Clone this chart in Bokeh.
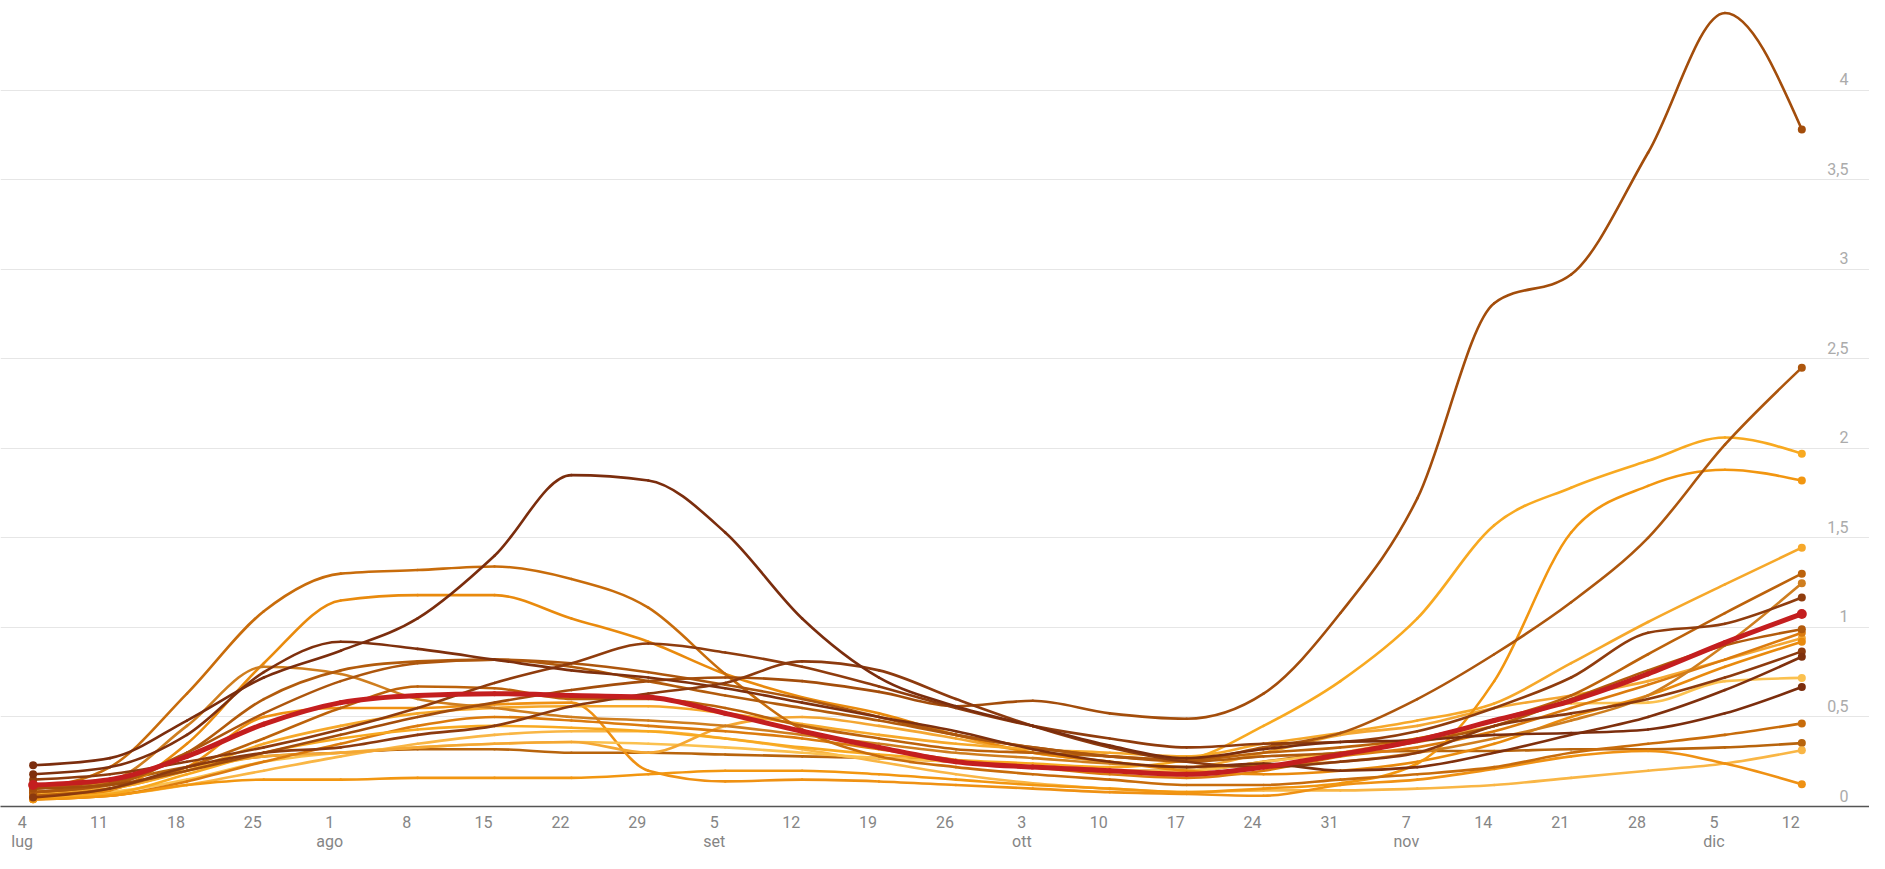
import numpy as np
import pandas as pd
from bokeh.plotting import figure
from bokeh.models import Range1d, FixedTicker, LinearAxis, Grid
from bokeh.core.properties import value
from bokeh.embed import file_html
from bokeh.resources import INLINE

# ---------------- data ----------------
origin = "2020-07-04"
dates = ["2020-07-05", "2020-07-12", "2020-07-19", "2020-07-26", "2020-08-02", "2020-08-09",
         "2020-08-16", "2020-08-23", "2020-08-30", "2020-09-06", "2020-09-13", "2020-09-20",
         "2020-09-27", "2020-10-04", "2020-10-11", "2020-10-18", "2020-10-25", "2020-11-01",
         "2020-11-08", "2020-11-15", "2020-11-22", "2020-11-29", "2020-12-06", "2020-12-13"]

tick_dates = ["2020-07-04", "2020-07-11", "2020-07-18", "2020-07-25", "2020-08-01", "2020-08-08",
              "2020-08-15", "2020-08-22", "2020-08-29", "2020-09-05", "2020-09-12", "2020-09-19",
              "2020-09-26", "2020-10-03", "2020-10-10", "2020-10-17", "2020-10-24", "2020-10-31",
              "2020-11-07", "2020-11-14", "2020-11-21", "2020-11-28", "2020-12-05", "2020-12-12"]
tick_labels = ["4", "11", "18", "25", "1", "8", "15", "22", "29", "5", "12", "19", "26",
               "3", "10", "17", "24", "31", "7", "14", "21", "28", "5", "12"]
month_dates = ["2020-07-04", "2020-08-01", "2020-09-05", "2020-10-03", "2020-11-07", "2020-12-05"]
month_labels = ["lug", "ago", "set", "ott", "nov", "dic"]

y_ticks = [0, 0.5, 1, 1.5, 2, 2.5, 3, 3.5, 4]
y_labels = ["0", "0,5", "1", "1,5", "2", "2,5", "3", "3,5", "4"]

reg_p = [0.23, 0.27, 0.48, 0.72, 0.87, 1.05, 1.40, 1.85, 1.82, 1.53, 1.05, 0.72, 0.56, 0.45, 0.34, 0.27, 0.32, 0.36, 0.37, 0.40, 0.41, 0.43, 0.52, 0.667]
reg_big = [0.10, 0.12, 0.20, 0.30, 0.40, 0.50, 0.58, 0.65, 0.70, 0.72, 0.70, 0.64, 0.56, 0.59, 0.52, 0.49, 0.63, 1.08, 1.72, 2.81, 2.97, 3.65, 4.43, 3.78]
reg_245 = [0.08, 0.13, 0.30, 0.52, 0.70, 0.80, 0.82, 0.80, 0.75, 0.68, 0.60, 0.50, 0.40, 0.33, 0.28, 0.26, 0.33, 0.41, 0.60, 0.85, 1.14, 1.50, 2.02, 2.45]
reg_197 = [0.05, 0.07, 0.18, 0.30, 0.38, 0.43, 0.45, 0.44, 0.42, 0.38, 0.33, 0.29, 0.26, 0.24, 0.22, 0.26, 0.45, 0.70, 1.05, 1.57, 1.78, 1.93, 2.06, 1.97]
reg_182 = [0.04, 0.06, 0.12, 0.15, 0.15, 0.16, 0.16, 0.16, 0.18, 0.20, 0.20, 0.18, 0.15, 0.12, 0.10, 0.08, 0.10, 0.13, 0.24, 0.70, 1.53, 1.79, 1.88, 1.82]
reg_145 = [0.07, 0.10, 0.20, 0.35, 0.45, 0.52, 0.55, 0.56, 0.56, 0.52, 0.46, 0.40, 0.35, 0.32, 0.30, 0.28, 0.35, 0.41, 0.48, 0.575, 0.80, 1.03, 1.24, 1.445]
reg_130 = [0.06, 0.10, 0.22, 0.38, 0.55, 0.67, 0.66, 0.60, 0.60, 0.55, 0.45, 0.38, 0.32, 0.30, 0.28, 0.26, 0.30, 0.33, 0.38, 0.48, 0.62, 0.85, 1.08, 1.30]
reg_125 = [0.08, 0.14, 0.45, 0.78, 0.74, 0.60, 0.55, 0.50, 0.48, 0.45, 0.40, 0.35, 0.30, 0.27, 0.24, 0.22, 0.23, 0.25, 0.30, 0.38, 0.48, 0.62, 0.90, 1.246]
reg_117 = [0.15, 0.18, 0.25, 0.33, 0.43, 0.55, 0.69, 0.80, 0.91, 0.86, 0.78, 0.67, 0.55, 0.45, 0.38, 0.33, 0.35, 0.36, 0.42, 0.55, 0.72, 0.97, 1.02, 1.167]
reg_099 = [0.08, 0.12, 0.30, 0.60, 0.76, 0.81, 0.82, 0.78, 0.70, 0.62, 0.55, 0.48, 0.40, 0.33, 0.28, 0.25, 0.28, 0.30, 0.36, 0.45, 0.60, 0.76, 0.90, 0.99]
reg_097 = [0.04, 0.06, 0.14, 0.25, 0.35, 0.45, 0.50, 0.48, 0.45, 0.42, 0.38, 0.32, 0.26, 0.22, 0.18, 0.16, 0.20, 0.28, 0.33, 0.42, 0.55, 0.68, 0.82, 0.97]
reg_094 = [0.08, 0.10, 0.20, 0.28, 0.30, 0.33, 0.35, 0.36, 0.30, 0.45, 0.50, 0.45, 0.38, 0.30, 0.25, 0.22, 0.30, 0.40, 0.45, 0.55, 0.62, 0.70, 0.82, 0.94]
reg_092 = [0.05, 0.09, 0.35, 0.80, 1.15, 1.18, 1.18, 1.05, 0.92, 0.74, 0.61, 0.52, 0.40, 0.30, 0.25, 0.20, 0.18, 0.20, 0.25, 0.35, 0.50, 0.62, 0.78, 0.92]
reg_087 = [0.05, 0.10, 0.22, 0.30, 0.33, 0.40, 0.45, 0.56, 0.63, 0.69, 0.81, 0.76, 0.60, 0.45, 0.33, 0.25, 0.22, 0.25, 0.30, 0.45, 0.52, 0.60, 0.72, 0.866]
reg_084 = [0.18, 0.22, 0.40, 0.75, 0.92, 0.88, 0.82, 0.76, 0.72, 0.66, 0.58, 0.50, 0.42, 0.32, 0.25, 0.22, 0.24, 0.20, 0.22, 0.30, 0.40, 0.50, 0.65, 0.836]
reg_072 = [0.06, 0.08, 0.15, 0.25, 0.30, 0.33, 0.35, 0.36, 0.35, 0.33, 0.30, 0.27, 0.25, 0.22, 0.20, 0.20, 0.25, 0.30, 0.38, 0.45, 0.575, 0.58, 0.70, 0.718]
reg_046 = [0.10, 0.22, 0.63, 1.09, 1.30, 1.32, 1.34, 1.27, 1.11, 0.74, 0.43, 0.28, 0.22, 0.18, 0.15, 0.12, 0.12, 0.15, 0.18, 0.22, 0.30, 0.35, 0.40, 0.464]
reg_035 = [0.10, 0.14, 0.22, 0.28, 0.30, 0.32, 0.32, 0.30, 0.30, 0.29, 0.28, 0.27, 0.25, 0.22, 0.20, 0.20, 0.25, 0.30, 0.31, 0.31, 0.32, 0.32, 0.33, 0.354]
reg_031 = [0.04, 0.06, 0.12, 0.20, 0.28, 0.35, 0.40, 0.42, 0.42, 0.38, 0.32, 0.25, 0.18, 0.13, 0.10, 0.08, 0.09, 0.09, 0.10, 0.12, 0.16, 0.20, 0.24, 0.314]
reg_012 = [0.06, 0.10, 0.22, 0.50, 0.55, 0.55, 0.57, 0.58, 0.20, 0.14, 0.15, 0.14, 0.12, 0.10, 0.08, 0.07, 0.06, 0.12, 0.15, 0.21, 0.28, 0.31, 0.24, 0.124]
italia = [0.12, 0.15, 0.28, 0.46, 0.58, 0.62, 0.63, 0.62, 0.61, 0.52, 0.42, 0.33, 0.25, 0.22, 0.20, 0.18, 0.22, 0.29, 0.37, 0.48, 0.59, 0.74, 0.915, 1.075]

regions = [reg_035, reg_031, reg_012, reg_072, reg_094, reg_097, reg_092, reg_145, reg_197,
           reg_182, reg_125, reg_046, reg_130, reg_099, reg_245, reg_big, reg_117, reg_087,
           reg_084, reg_p]
region_colors = ["#b8640c", "#f9b645", "#ef9113", "#fbc14f", "#f4a733", "#db7b0e", "#e98a0d", "#f6a82a", "#f8a920",
                 "#f29610", "#cf7e1f", "#c86c0b", "#bc620b", "#b25b0c", "#ad560d", "#a34d0b", "#8f3c0d", "#8c3a0e",
                 "#7f300d", "#7b2d0d"]

# ---------------- helpers ----------------
t0 = pd.Timestamp(origin)
xd = np.array([(pd.Timestamp(d) - t0).days for d in dates], dtype=float)
tick_days = [(pd.Timestamp(d) - t0).days for d in tick_dates]
month_days = [(pd.Timestamp(d) - t0).days for d in month_dates]


def monotone_segments(x, y):
    """Bezier control points of a monotone-x cubic through the data (d3 curveMonotoneX)."""
    x = np.asarray(x, float)
    y = np.asarray(y, float)
    n = len(x)
    h = np.diff(x)
    s = np.diff(y) / h
    t = np.zeros(n)
    for i in range(1, n - 1):
        s0, s1 = s[i - 1], s[i]
        p_ = (s0 * h[i] + s1 * h[i - 1]) / (h[i - 1] + h[i])
        t[i] = (np.sign(s0) + np.sign(s1)) * min(abs(s0), abs(s1), 0.5 * abs(p_))
    t[0] = (3 * s[0] - t[1]) / 2
    t[-1] = (3 * s[-1] - t[-2]) / 2
    dx = h / 3.0
    return dict(x0=x[:-1], y0=y[:-1], x1=x[1:], y1=y[1:],
                cx0=x[:-1] + dx, cy0=y[:-1] + dx * t[:-1],
                cx1=x[1:] - dx, cy1=y[1:] - dx * t[1:])


# ---------------- figure ----------------
x_start, x_end = -1.97, 168.16
p = figure(width=1869, height=853, x_range=Range1d(x_start, x_end), y_range=Range1d(0, 4.50),
           output_backend="svg", toolbar_location=None,
           x_axis_location=None, y_axis_location=None,
           min_border_left=0, min_border_right=0, min_border_top=0, min_border_bottom=0,
           outline_line_color=None, background_fill_color="white", border_fill_color="white")
p.xgrid.visible = False
p.ygrid.visible = False

grid = Grid(dimension=1, ticker=FixedTicker(ticks=y_ticks[1:]),
            grid_line_color="#e6e6e6", grid_line_width=1)
p.add_layout(grid)

axis_style = dict(major_tick_line_color=None, minor_tick_line_color=None,
                  major_tick_out=0, major_tick_in=0, minor_tick_out=0, minor_tick_in=0,
                  major_label_text_font="Roboto", major_label_text_font_size="16px",
                  major_label_text_color="#858585")
ax1 = LinearAxis(ticker=FixedTicker(ticks=tick_days),
                 major_label_overrides={d: l for d, l in zip(tick_days, tick_labels)},
                 axis_line_color="#555555", axis_line_width=1.6,
                 major_label_standoff=9, **axis_style)
p.add_layout(ax1, "below")
ax2 = LinearAxis(ticker=FixedTicker(ticks=month_days),
                 major_label_overrides={d: l for d, l in zip(month_days, month_labels)},
                 axis_line_color=None, major_label_standoff=1, **axis_style)
p.add_layout(ax2, "below")

# y labels inside the plot, right aligned above the grid lines
p.text(x=[x_end] * len(y_ticks), y=y_ticks, text=y_labels,
       text_font=value("Roboto"), text_font_size="16px", text_color="#ababab",
       text_align="right", text_baseline="bottom", x_offset=-21, y_offset=-5)

for vals, col in zip(regions, region_colors):
    seg = monotone_segments(xd, vals)
    p.bezier(line_color=col, line_width=2.6, line_cap="round", **seg)
    p.scatter(x=[xd[0], xd[-1]], y=[vals[0], vals[-1]], size=8, color=col, line_color=None)

seg = monotone_segments(xd, italia)
p.bezier(line_color="#c41e1f", line_width=5, line_cap="round", **seg)
p.scatter(x=[xd[0], xd[-1]], y=[italia[0], italia[-1]], size=10, color="#c41e1f", line_color=None)

open("out.html", "w").write(file_html(p, INLINE))
